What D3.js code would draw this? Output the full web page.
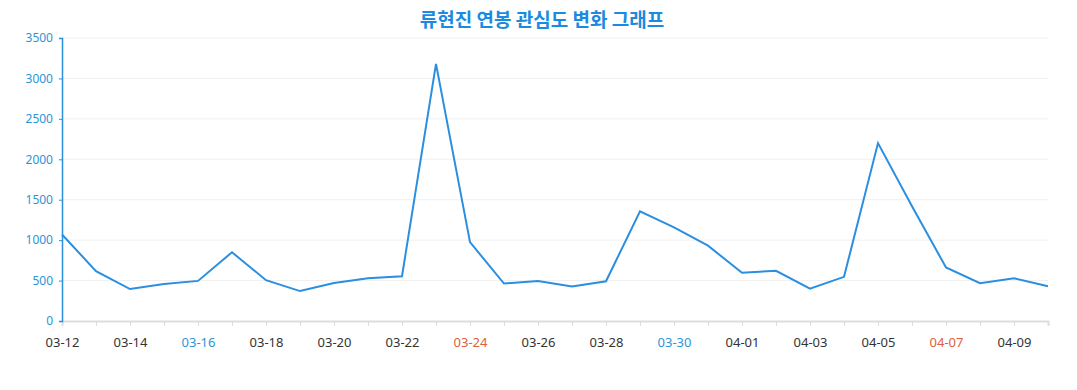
<!DOCTYPE html>
<html>
<head>
<meta charset="utf-8">
<script src="https://cdn.jsdelivr.net/npm/d3@7"></script>
<style>
  body { margin: 0; background: #fff; }
  #chart { width: 1077px; height: 390px; }
  text { font-family: "Noto Sans", "Noto Sans CJK KR", sans-serif; }
</style>
</head>
<body>
<div id="chart"></div>
<script>
const kWidth = 1077;
const kHeight = 390;
const kLeft = 62, kRight = 1048, kTop = 38, kBottom = 321;

const titleText = "류현진 연봉 관심도 변화 그래프";

const dates = [
  "03-12", "03-13", "03-14", "03-15", "03-16", "03-17", "03-18", "03-19", "03-20", "03-21",
  "03-22", "03-23", "03-24", "03-25", "03-26", "03-27", "03-28", "03-29", "03-30", "03-31",
  "04-01", "04-02", "04-03", "04-04", "04-05", "04-06", "04-07", "04-08", "04-09", "04-10"
];
const values = [
  1070, 617, 395, 458, 496, 850, 505, 370, 471, 529,
  554, 3180, 975, 463, 494, 427, 492, 1356, 1159, 932,
  596, 621, 400, 546, 2200, 1420, 662, 467, 529, 430
];
const yTicks = [0, 500, 1000, 1500, 2000, 2500, 3000, 3500];
const saturdays = ["03-16", "03-23", "03-30", "04-06"];
const sundays = ["03-17", "03-24", "03-31", "04-07"];

function labelColor(d)
{
  if (saturdays.includes(d)) return "#2b95d6";
  if (sundays.includes(d)) return "#dc6040";
  return "#333";
}

function createSvg()
{
  return d3.select("#chart")
    .append("svg")
    .attr("width", kWidth)
    .attr("height", kHeight);
}

function drawChart(svg)
{
  const xScale = d3.scalePoint()
    .domain(dates)
    .range([kLeft, kRight]);

  const yScale = d3.scaleLinear()
    .domain([0, 3500])
    .range([kBottom, kTop]);

  // grid
  svg.append("g")
    .selectAll("line")
    .data(yTicks.slice(1))
    .enter()
    .append("line")
    .attr("x1", kLeft)
    .attr("x2", kRight)
    .attr("y1", d => yScale(d))
    .attr("y2", d => yScale(d))
    .attr("stroke", "#f0f0f0")
    .attr("stroke-width", 1);

  const xAxis = d3.axisBottom(xScale)
    .tickSize(5)
    .tickPadding(12)
    .tickFormat((d, i) => i % 2 === 0 ? d : "");

  const gx = svg.append("g")
    .attr("transform", `translate(0, ${kBottom})`)
    .call(xAxis);
  gx.select(".domain").attr("stroke", "#ddd").attr("stroke-width", 2);
  gx.selectAll(".tick line").attr("stroke", "#ddd");
  gx.selectAll(".tick text")
    .attr("font-size", 13)
    .attr("fill", d => labelColor(d));

  const yAxis = d3.axisLeft(yScale)
    .tickValues(yTicks)
    .tickFormat(d3.format("d"))
    .tickSize(3)
    .tickPadding(6);

  const gy = svg.append("g")
    .attr("transform", `translate(${kLeft}, 0)`)
    .call(yAxis);
  gy.select(".domain").attr("stroke", "#2b90d9").attr("stroke-width", 1.5);
  gy.selectAll(".tick line").attr("stroke", "#2b90d9");
  gy.selectAll(".tick text")
    .attr("font-size", 12)
    .attr("fill", "#2b95d6");

  const line = d3.line()
    .x((d, i) => xScale(dates[i]))
    .y(d => yScale(d));

  svg.append("path")
    .datum(values)
    .attr("d", line)
    .attr("fill", "none")
    .attr("stroke", "#2a8fe0")
    .attr("stroke-width", 2);

  svg.append("text")
    .attr("x", 542)
    .attr("y", 27)
    .attr("text-anchor", "middle")
    .attr("font-size", 19)
    .attr("font-weight", "bold")
    .attr("fill", "#1a8be0")
    .style("font-family", "'Noto Sans CJK KR', sans-serif")
    .text(titleText);
}

document.addEventListener("DOMContentLoaded", () => {
  const svg = createSvg();
  drawChart(svg);
});
</script>
</body>
</html>
